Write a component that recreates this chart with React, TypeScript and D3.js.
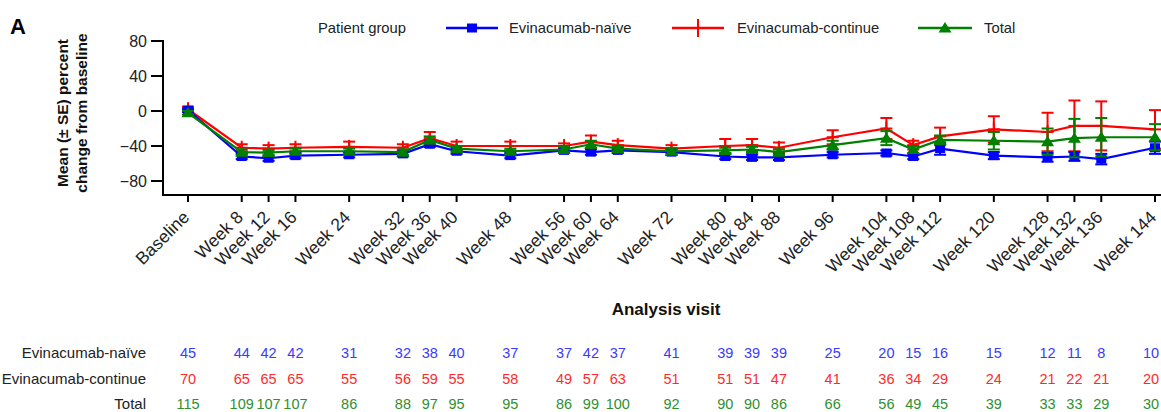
import React from "react";
import * as d3 from "d3";

const weeks = [0, 8, 12, 16, 24, 32, 36, 40, 48, 56, 60, 64, 72, 80, 84, 88, 96, 104, 108, 112, 120, 128, 132, 136, 144];
const visitLabels = ["Baseline", "Week 8", "Week 12", "Week 16", "Week 24", "Week 32", "Week 36", "Week 40", "Week 48", "Week 56", "Week 60", "Week 64", "Week 72", "Week 80", "Week 84", "Week 88", "Week 96", "Week 104", "Week 108", "Week 112", "Week 120", "Week 128", "Week 132", "Week 136", "Week 144"];

const naiveMean = [1, -52, -54, -51, -50, -49, -38, -46, -51, -45, -47, -45, -47, -52, -53, -53, -50, -48, -52, -43, -51, -53, -52, -55, -42];
const naiveSE = [2, 3, 3, 3, 3, 3, 3, 3, 3, 3, 3, 3, 3, 3, 3, 3, 3, 3, 3, 7, 4, 5, 5, 6, 7];
const continueMean = [2, -42, -43, -42, -41, -42, -31, -40, -40, -40, -35, -39, -43, -40, -39, -42, -30, -20, -39, -29, -21, -24, -17, -17, -21];
const continueSE = [3, 4, 4, 4, 6, 4, 7, 5, 5, 3, 7, 5, 4, 8, 7, 6, 8, 12, 5, 10, 15, 22, 29, 28, 22];
const totalMean = [-2, -47, -47.5, -46, -46, -47, -33, -43, -46, -44, -38, -43, -46, -45, -44, -47, -39, -31, -44, -33, -34, -35, -31, -30, -30];
const totalSE = [2, 3, 3, 3, 3, 3, 4, 3, 3, 3, 4, 3, 3, 3, 3, 3, 5, 8, 4, 5, 10, 15, 22, 22, 15];

const nNaive = [45, 44, 42, 42, 31, 32, 38, 40, 37, 37, 42, 37, 41, 39, 39, 39, 25, 20, 15, 16, 15, 12, 11, 8, 10];
const nContinue = [70, 65, 65, 65, 55, 56, 59, 55, 58, 49, 57, 63, 51, 51, 51, 47, 41, 36, 34, 29, 24, 21, 22, 21, 20];
const nTotal = [115, 109, 107, 107, 86, 88, 97, 95, 95, 86, 99, 100, 92, 90, 90, 86, 66, 56, 49, 45, 39, 33, 33, 29, 30];

const yTicks = [80, 40, 0, -40, -80];

const FONT = "'Liberation Sans', Arial, Helvetica, sans-serif";
const W = 1161;

const x = d3.scaleLinear().domain([0, 144]).range([188, 1155]);
const y = d3.scaleLinear().domain([-96, 80]).range([195, 41]);

type Series = { name: string; mean: number[]; se: number[]; color: string; marker: "square" | "plus" | "triangle"; nColor: string; n: number[] };

const series: Series[] = [
  { name: "Evinacumab-naïve", mean: naiveMean, se: naiveSE, color: "#0000ff", marker: "square", nColor: "#3a3aff", n: nNaive },
  { name: "Evinacumab-continue", mean: continueMean, se: continueSE, color: "#ff0000", marker: "plus", nColor: "#ff2a2a", n: nContinue },
  { name: "Total", mean: totalMean, se: totalSE, color: "#008000", marker: "triangle", nColor: "#2f8f2f", n: nTotal },
];

function Marker({ type, cx, cy, color }: { type: string; cx: number; cy: number; color: string }) {
  if (type === "square") return <rect x={cx - 5} y={cy - 4.5} width={10} height={9} fill={color} />;
  if (type === "triangle") {
    const p = d3.path();
    p.moveTo(cx, cy - 6);
    p.lineTo(cx + 6.5, cy + 4.5);
    p.lineTo(cx - 6.5, cy + 4.5);
    p.closePath();
    return <path d={p.toString()} fill={color} />;
  }
  return (
    <g stroke={color} strokeWidth={2}>
      <line x1={cx} x2={cx} y1={cy - 7} y2={cy + 7} />
      <line x1={cx - 6} x2={cx + 6} y1={cy} y2={cy} />
    </g>
  );
}

export default function App() {
  const line = d3.line<number>().x((_, i) => x(weeks[i])).y((d) => y(d));
  const drawOrder = [1, 0, 2];
  const legendPos = [
    { x1: 446, x2: 498, tx: 509 },
    { x1: 672, x2: 724, tx: 737 },
    { x1: 918, x2: 972, tx: 984 },
  ];
  const rowsY = [353, 379, 404];
  return (
    <svg width={W} height={412} style={{ position: "absolute", left: 0, top: 0, background: "#fff" }} fontFamily={FONT}>
      <text x={10} y={34} fontSize={22} fontWeight="bold" fill="#000">A</text>

      {/* legend */}
      <text x={318} y={33} fontSize={14.8} fill="#222">Patient group</text>
      {series.map((s, i) => {
        const lp = legendPos[i];
        const cx = (lp.x1 + lp.x2) / 2;
        return (
          <g key={s.name}>
            <line x1={lp.x1} x2={lp.x2} y1={28} y2={28} stroke={s.color} strokeWidth={2.5} />
            {s.marker === "plus" ? (
              <line x1={cx} x2={cx} y1={19} y2={37} stroke={s.color} strokeWidth={2} />
            ) : (
              <Marker type={s.marker} cx={cx} cy={28} color={s.color} />
            )}
            <text x={lp.tx} y={33} fontSize={14.8} fill="#222">{s.name}</text>
          </g>
        );
      })}

      {/* y axis */}
      <line x1={163} x2={163} y1={y(80) - 1} y2={196} stroke="#000" strokeWidth={2} />
      {yTicks.map((t) => (
        <g key={t}>
          <line x1={151} x2={163} y1={y(t)} y2={y(t)} stroke="#000" strokeWidth={2} />
          <text x={147} y={y(t)} dy="0.36em" fontSize={16} textAnchor="end" fill="#222">{t < 0 ? "\u2212" + Math.abs(t) : t}</text>
        </g>
      ))}
      <g transform="translate(68,113) rotate(-90)">
        <text x={0} y={0} fontSize={15.5} fontWeight="bold" textAnchor="middle" fill="#111">Mean (± SE) percent</text>
        <text x={0} y={19} fontSize={15.5} fontWeight="bold" textAnchor="middle" fill="#111">change from baseline</text>
      </g>

      {/* x axis */}
      <line x1={162} x2={W} y1={195} y2={195} stroke="#000" strokeWidth={2} />
      {weeks.map((w, i) => (
        <g key={w}>
          <line x1={x(w)} x2={x(w)} y1={195} y2={202} stroke="#000" strokeWidth={2} />
          <text transform={`translate(${x(w) - 2},${214}) rotate(-45)`} fontSize={17.5} textAnchor="end" dy="0.35em" fill="#222">{visitLabels[i]}</text>
        </g>
      ))}
      <text x={666} y={315} fontSize={17} fontWeight="bold" textAnchor="middle" fill="#111">Analysis visit</text>

      {/* series */}
      {drawOrder.map((k) => {
        const s = series[k];
        return (
          <g key={s.name}>
            <path d={line(s.mean) || ""} fill="none" stroke={s.color} strokeWidth={2.2} />
            {s.mean.map((m, i) => {
              const cx = x(weeks[i]);
              const top = y(m + s.se[i]);
              const bot = y(m - s.se[i]);
              return (
                <g key={i} stroke={s.color} strokeWidth={2}>
                  <line x1={cx} x2={cx} y1={top} y2={bot} />
                  <line x1={cx - 6} x2={cx + 6} y1={top} y2={top} />
                  <line x1={cx - 6} x2={cx + 6} y1={bot} y2={bot} />
                </g>
              );
            })}
            {s.mean.map((m, i) => (
              <Marker key={"m" + i} type={s.marker} cx={x(weeks[i])} cy={y(m)} color={s.color} />
            ))}
          </g>
        );
      })}

      {/* numbers at risk table */}
      {series.map((s, r) => (
        <g key={"row" + r}>
          <text x={146} y={rowsY[r]} dy="0.35em" fontSize={15} textAnchor="end" fill="#222">{s.name}</text>
          {s.n.map((v, i) => (
            <text key={i} x={Math.min(x(weeks[i]), W - 10)} y={rowsY[r]} dy="0.35em" fontSize={14.5} textAnchor="middle" fill={s.nColor}>{v}</text>
          ))}
        </g>
      ))}
    </svg>
  );
}
